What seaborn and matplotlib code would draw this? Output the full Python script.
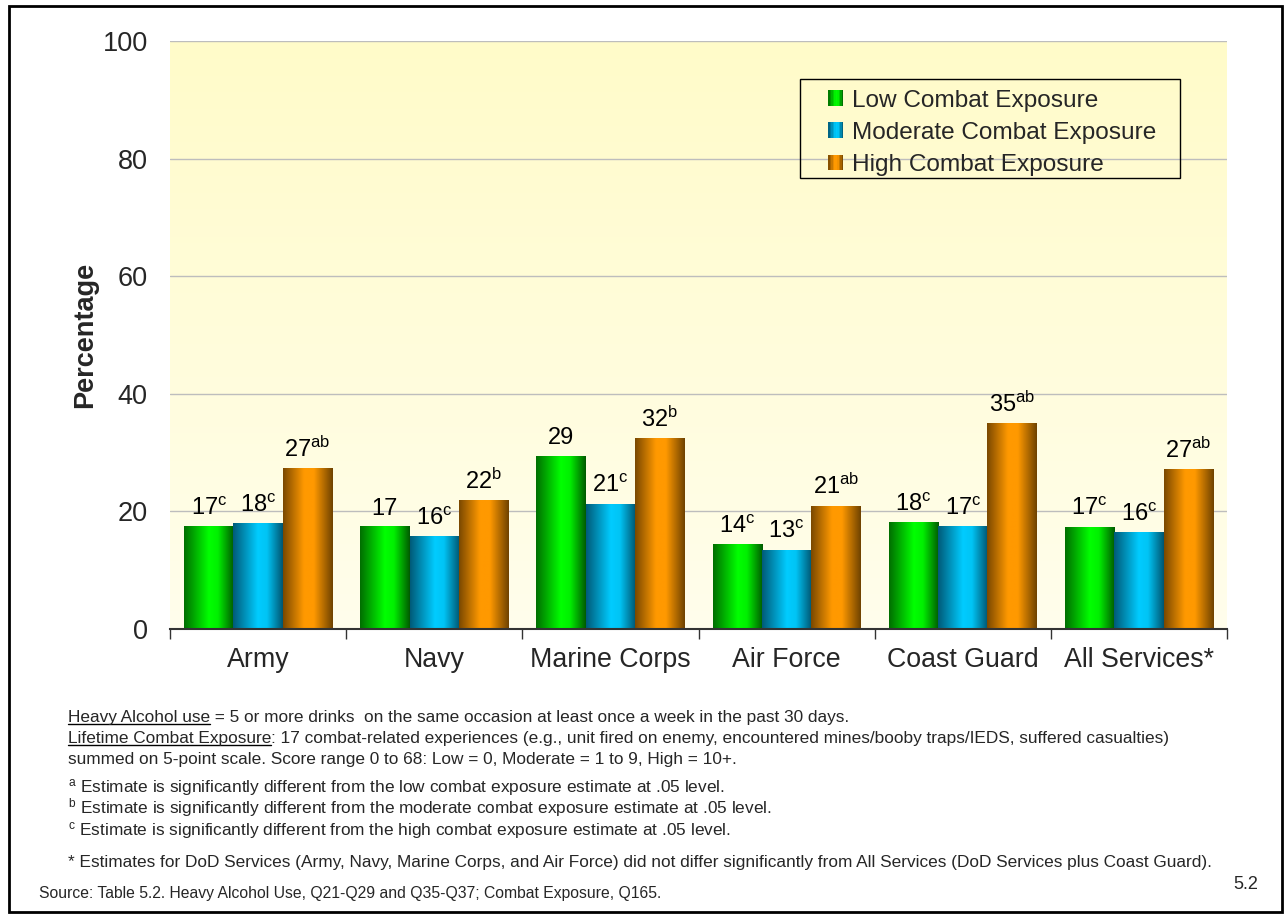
import matplotlib
matplotlib.use("Agg")
import numpy as np
import pandas as pd
import matplotlib.pyplot as plt
import seaborn as sns
from matplotlib.colors import LinearSegmentedColormap
from matplotlib.patches import Rectangle
from matplotlib.legend_handler import HandlerBase

# ─── Данные ──────────────────────────────────────────────────────────────────
services = ["Army", "Navy", "Marine Corps", "Air Force", "Coast Guard", "All Services*"]
exposure = ["Low Combat Exposure", "Moderate Combat Exposure", "High Combat Exposure"]
low = [17.4, 17.4, 29.4, 14.3, 18.1, 17.3]
moderate = [17.9, 15.7, 21.2, 13.4, 17.4, 16.4]
high = [27.3, 21.8, 32.4, 20.9, 34.9, 27.1]
low_sup = ["c", "", "", "c", "c", "c"]
mod_sup = ["c", "c", "c", "c", "c", "c"]
high_sup = ["ab", "b", "b", "ab", "ab", "ab"]
y_ticks = [0, 20, 40, 60, 80, 100]

W, H = 1285, 915

sns.set_theme(style="white")
plt.rcParams["font.family"] = ["Liberation Sans", "DejaVu Sans"]
plt.rcParams["mathtext.fontset"] = "custom"
plt.rcParams["mathtext.rm"] = "Liberation Sans"
plt.rcParams["mathtext.it"] = "Liberation Sans"

# градиенты столбцов: тёмный край -> яркая середина -> тёмный край
cmaps = [
    LinearSegmentedColormap.from_list("g", [(0, "#006E00"), (0.5, "#00FF00"), (0.68, "#00F000"), (1, "#005A00")]),
    LinearSegmentedColormap.from_list("b", [(0, "#005A78"), (0.5, "#00CCFF"), (0.68, "#00C4F5"), (1, "#005570")]),
    LinearSegmentedColormap.from_list("o", [(0, "#7A4800"), (0.42, "#FF9900"), (0.62, "#FF9900"), (1, "#6E4200")]),
]
mid_colors = ["#00CC00", "#00A8D8", "#D98200"]

df = pd.DataFrame({
    "service": services * 3,
    "exposure": np.repeat(exposure, len(services)),
    "pct": low + moderate + high,
})

fig = plt.figure(figsize=(W / 100, H / 100), dpi=100)
ax = fig.add_axes([170 / W, 1 - 629 / H, (1227 - 170) / W, (629 - 41) / H])

sns.barplot(data=df, x="service", y="pct", hue="exposure", hue_order=exposure,
            palette=mid_colors, width=0.84, legend=False, ax=ax, errorbar=None)

# фон: вертикальный градиент бледно-жёлтого
bg = LinearSegmentedColormap.from_list("bg", ["#FFFEEC", "#FFFBC9"])
ax.imshow(np.linspace(0, 1, 256).reshape(-1, 1), cmap=bg, origin="lower",
          extent=(-0.5, 5.5, 0, 100), aspect="auto", zorder=0)

grad = np.linspace(0, 1, 256).reshape(1, -1)
sups = [low_sup, mod_sup, high_sup]
for cont, cmap, sup in zip(ax.containers, cmaps, sups):
    for bar, s in zip(cont, sup):
        x0, w, h = bar.get_x(), bar.get_width(), bar.get_height()
        bar.set_facecolor("none")
        bar.set_edgecolor("none")
        ax.imshow(grad, cmap=cmap, extent=(x0, x0 + w, 0, h), aspect="auto", zorder=2)
        txt = f"{round(h)}" + (r"$^{\mathrm{" + s + "}}$" if s else "")
        ax.annotate(txt, (x0 + w / 2, h), xytext=(0, 5), textcoords="offset points",
                    ha="center", va="bottom", fontsize=17, color="black")

ax.set_xlim(-0.5, 5.5)
ax.set_ylim(0, 100)
ax.set_yticks(y_ticks)
ax.set_yticklabels([str(t) for t in y_ticks], fontsize=19.5)
ax.set_xticks(range(len(services)))
ax.set_xticklabels(services, fontsize=19.3)
ax.set_xticks(np.arange(-0.5, 6, 1), minor=True)
ax.tick_params(axis="x", which="major", length=0, pad=13)
ax.tick_params(axis="x", which="minor", bottom=True, length=7, width=1, color="#333333", direction="out")
ax.tick_params(axis="y", length=0, pad=16)
ax.set_xlabel("")
ax.set_ylabel("Percentage", fontsize=19.5, fontweight="bold", labelpad=3)
ax.yaxis.grid(True, color="#BDBDBD", linewidth=1)
ax.xaxis.grid(False)
ax.set_axisbelow(True)
for sp in ["left", "right", "top"]:
    ax.spines[sp].set_visible(False)
ax.spines["bottom"].set_color("#333333")
ax.spines["bottom"].set_linewidth(1.5)
ax.spines["bottom"].set_zorder(3)


# легенда с градиентными квадратиками
class GradHandler(HandlerBase):
    def __init__(self, cmap):
        super().__init__()
        self.cmap = cmap

    def create_artists(self, legend, orig_handle, xdescent, ydescent, width, height, fontsize, trans):
        n = 10
        return [Rectangle((-xdescent + width * i / n, -ydescent), width / n, height,
                          facecolor=self.cmap((i + 0.5) / n), edgecolor="none", transform=trans)
                for i in range(n)]


handles = [Rectangle((0, 0), 1, 1) for _ in exposure]
leg = ax.legend(handles, exposure, handler_map={h: GradHandler(c) for h, c in zip(handles, cmaps)},
                loc="upper left", bbox_to_anchor=(828 / W, 1 - 90 / H), bbox_transform=fig.transFigure,
                borderaxespad=0, borderpad=0, fontsize=17.6, frameon=False,
                handlelength=0.62, handleheight=0.62, handletextpad=0.38, labelspacing=0.41)
fig.add_artist(Rectangle((800 / W, 1 - 178 / H), (1180 - 800) / W, (178 - 79) / H, fill=False,
                         edgecolor="black", linewidth=1, transform=fig.transFigure))

# ─── Сноски ──────────────────────────────────────────────────────────────────
renderer = fig.canvas.get_renderer()
fs = 12.4
x_note = 68


def underlined(x_px, base_px, head, rest):
    t = fig.text(x_px / W, 1 - base_px / H, head, fontsize=fs, va="baseline", ha="left")
    bb = t.get_window_extent(renderer)
    yline = (H - base_px - 2) / H
    fig.add_artist(plt.Line2D([bb.x0 / W, bb.x1 / W], [yline, yline], color="black",
                              linewidth=1, transform=fig.transFigure))
    fig.text(bb.x1 / W, 1 - base_px / H, rest, fontsize=fs, va="baseline", ha="left")


underlined(x_note, 722, "Heavy Alcohol use",
           " = 5 or more drinks  on the same occasion at least once a week in the past 30 days.")
underlined(x_note, 743, "Lifetime Combat Exposure",
           ": 17 combat-related experiences (e.g., unit fired on enemy, encountered mines/booby traps/IEDS, suffered casualties)")
fig.text(x_note / W, 1 - 764 / H, "summed on 5-point scale. Score range 0 to 68: Low = 0, Moderate = 1 to 9, High = 10+.",
         fontsize=fs, va="baseline")
notes = [
    (792, r"$^{\mathrm{a}}$ Estimate is significantly different from the low combat exposure estimate at .05 level."),
    (813, r"$^{\mathrm{b}}$ Estimate is significantly different from the moderate combat exposure estimate at .05 level."),
    (835, r"$^{\mathrm{c}}$ Estimate is significantly different from the high combat exposure estimate at .05 level."),
    (867, "* Estimates for DoD Services (Army, Navy, Marine Corps, and Air Force) did not differ significantly "
          "from All Services (DoD Services plus Coast Guard)."),
]
for y, s in notes:
    fig.text(x_note / W, 1 - y / H, s, fontsize=fs, va="baseline")
fig.text(39 / W, 1 - 898 / H, "Source: Table 5.2. Heavy Alcohol Use, Q21-Q29 and Q35-Q37; Combat Exposure, Q165.",
         fontsize=11.3, va="baseline")
fig.text(1258 / W, 1 - 889 / H, "5.2", fontsize=13, va="baseline", ha="right")

# рамка вокруг всего слайда
fig.add_artist(Rectangle((9 / W, 3 / H), (1282 - 9) / W, (909 - 3) / H, fill=False,
                         edgecolor="black", linewidth=2, transform=fig.transFigure))

fig.savefig("out.png", dpi=100, facecolor="white")
